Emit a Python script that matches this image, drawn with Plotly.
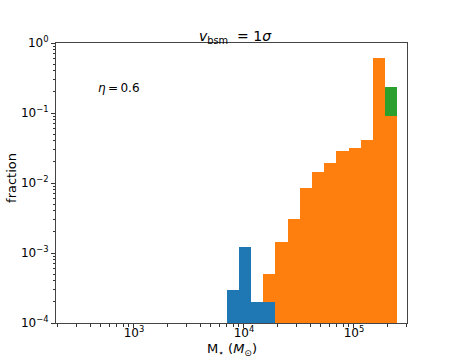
import math
import plotly.graph_objects as go

# Histogram bin edges (log10 of stellar mass in solar masses)
log_mass_edges = [3.843, 3.954, 4.065, 4.175, 4.286, 4.397, 4.508, 4.619,
                  4.729, 4.840, 4.951, 5.062, 5.173, 5.283, 5.394]

# Stacked fractions per bin
frac_blue = [3.0e-4, 1.2e-3, 2.0e-4, 2.0e-4, None, None, None, None,
             None, None, None, None, None, None]
frac_orange = [None, None, None, 3.0e-4, 1.42e-3, 3.1e-3, 8.6e-3, 1.42e-2,
               1.96e-2, 2.84e-2, 3.16e-2, 4.17e-2, 0.61, 0.0906]
frac_green = [None, None, None, None, None, None, None, None,
              None, None, None, None, None, 0.142]

x_tick_exponents = [3, 4, 5]
y_tick_exponents = [-4, -3, -2, -1, 0]

centers = [(a + b) / 2 for a, b in zip(log_mass_edges[:-1], log_mass_edges[1:])]
widths = [b - a for a, b in zip(log_mass_edges[:-1], log_mass_edges[1:])]

fig = go.Figure()
for vals, col in [(frac_blue, "#1f77b4"), (frac_orange, "#ff7f0e"), (frac_green, "#2ca02c")]:
    fig.add_trace(go.Bar(x=centers, y=vals, width=widths, marker=dict(color=col, line=dict(width=0)),
                         showlegend=False))

x_range = [2.291, 5.482]
x_minor = [math.log10(k * 10 ** n) for n in range(2, 6) for k in range(2, 10)
           if x_range[0] <= math.log10(k * 10 ** n) <= x_range[1]]
y_minor = [k * 10 ** n for n in range(-4, 0) for k in range(2, 10)]

font = dict(family="DejaVu Sans", size=12, color="black")

fig.update_layout(
    barmode="stack", bargap=0,
    width=452, height=362,
    margin=dict(l=56, r=45, t=43, b=39, autoexpand=False),
    plot_bgcolor="white", paper_bgcolor="white",
    font=font,
    xaxis=dict(range=x_range, showgrid=False, zeroline=False, automargin=False,
               tickmode="array", tickvals=x_tick_exponents,
               ticktext=[f"10<sup>{e}</sup>" for e in x_tick_exponents],
               ticks="outside", ticklen=4, tickwidth=1, tickcolor="#333",
               ticklabelstandoff=-5,
               minor=dict(tickmode="array", tickvals=x_minor, ticks="outside",
                          ticklen=2.5, tickcolor="#333", showgrid=False),
               showline=True, mirror=True, linecolor="#444", linewidth=1,
               tickfont=font),
    yaxis=dict(type="log", range=[-4, 0], showgrid=False, zeroline=False, automargin=False,
               tickmode="array", tickvals=[10 ** e for e in y_tick_exponents],
               ticktext=[f"10<sup>{str(e).replace('-', '−')}</sup>" for e in y_tick_exponents],
               ticks="outside", ticklen=4, tickwidth=1, tickcolor="#333",
               minor=dict(tickmode="array", tickvals=y_minor, ticks="outside",
                          ticklen=2.5, tickcolor="#333", showgrid=False),
               showline=True, mirror=True, linecolor="#444", linewidth=1,
               tickfont=font),
    annotations=[
        dict(text="<i>v</i><sub>bsm</sub>\u00a0\u00a0= 1<i>σ</i>", xref="paper", yref="paper",
             x=0.51, y=1.0214, xanchor="center", yanchor="middle", showarrow=False,
             font=dict(family="DejaVu Sans", size=14, color="black")),
        dict(text="M<sub>⋆</sub> (<i>M</i><sub>⊙</sub>)", xref="paper", yref="paper",
             x=0.5, y=-0.093, xanchor="center", yanchor="middle", showarrow=False,
             font=dict(family="DejaVu Sans", size=13, color="black")),
        dict(text="fraction", xref="paper", yref="paper", textangle=-90,
             x=-0.1254, y=0.518, xanchor="center", yanchor="middle", showarrow=False,
             font=dict(family="DejaVu Sans", size=13, color="black")),
        dict(text="<i>η</i>\u2009=\u20090.6", xref="paper", yref="paper",
             x=0.18, y=0.839, xanchor="center", yanchor="middle", showarrow=False,
             font=dict(family="DejaVu Sans", size=12, color="black")),
    ],
)

fig.write_html("out.html", config={"displayModeBar": False},
               post_script="document.body.style.margin='0';")
